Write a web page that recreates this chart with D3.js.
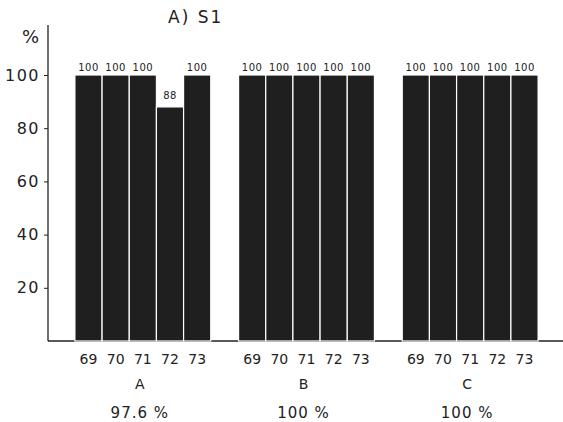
<!DOCTYPE html>
<html><head><meta charset="utf-8">
<script src="https://cdn.jsdelivr.net/npm/d3@7"></script>
<style>body{margin:0;background:#fff}svg{display:block}text{font-family:"DejaVu Sans",sans-serif;fill:#222}</style>
</head><body><svg id="c" width="563" height="422"></svg>
<script>
const groups = ["A", "B", "C"];
const years = ["69", "70", "71", "72", "73"];
const valuesA = [100, 100, 100, 88, 100];
const valuesB = [100, 100, 100, 100, 100];
const valuesC = [100, 100, 100, 100, 100];
const groupTotals = ["97.6 %", "100 %", "100 %"];
const yTicks = [20, 40, 60, 80, 100];
const title = "A) S1";

const seriesByGroup = {A: valuesA, B: valuesB, C: valuesC};
const svg = d3.select("#c");
const x0 = d3.scaleBand().domain(groups).range([61, 552]).paddingInner(0.17).paddingOuter(0.085);
const x1 = d3.scaleBand().domain(years).range([0, x0.bandwidth()]).padding(0);
const y = d3.scaleLinear().domain([0, 100]).range([341, 75]);

// axes lines
svg.append("line").attr("x1", 48).attr("x2", 48).attr("y1", 25).attr("y2", 341).attr("stroke", "#222").attr("stroke-width", 1.3);
svg.append("line").attr("x1", 48).attr("x2", 563).attr("y1", 341).attr("y2", 341).attr("stroke", "#222").attr("stroke-width", 1.5);

const yAxis = svg.append("g").attr("transform", "translate(48,0)")
  .call(d3.axisLeft(y).tickValues(yTicks).tickSize(4).tickPadding(4).tickFormat(d3.format("d")));
yAxis.select(".domain").remove();
yAxis.selectAll("line").attr("stroke", "#222");
yAxis.selectAll("text").style("font-size", "16px").style("letter-spacing", "1.5px").attr("fill", "#222");

svg.append("text").attr("x", 22).attr("y", 43).style("font-size", "18px").text("%");
svg.append("text").attr("x", 168).attr("y", 23).style("font-size", "17px").style("letter-spacing", "2px").text(title);

groups.forEach((g, gi) => {
  const gx = x0(g);
  const vals = seriesByGroup[g];
  const grp = svg.append("g").attr("transform", `translate(${gx},0)`);
  grp.selectAll("rect").data(vals).join("rect")
    .attr("x", (d, i) => x1(years[i]))
    .attr("width", x1.bandwidth())
    .attr("y", d => y(d))
    .attr("height", d => y(0) - y(d))
    .attr("fill", "#1f1f1f")
    .attr("stroke", "#fff").attr("stroke-width", 1.2);
  grp.selectAll("text.v").data(vals).join("text").attr("class", "v")
    .attr("x", (d, i) => x1(years[i]) + x1.bandwidth() / 2)
    .attr("y", d => y(d) - (d < 100 ? 8 : 4))
    .attr("text-anchor", "middle").style("font-size", "10px").style("letter-spacing", "0.5px")
    .text(d => d);
  grp.selectAll("text.yr").data(years).join("text").attr("class", "yr")
    .attr("x", d => x1(d) + x1.bandwidth() / 2)
    .attr("y", 364).attr("text-anchor", "middle").style("font-size", "14px")
    .text(d => d);
  svg.append("text").attr("x", gx + x0.bandwidth() / 2 - 3).attr("y", 389)
    .attr("text-anchor", "middle").style("font-size", "14px").text(g);
  svg.append("text").attr("x", gx + x0.bandwidth() / 2 - 3).attr("y", 418)
    .attr("text-anchor", "middle").style("font-size", "15px").style("letter-spacing", "1px").text(groupTotals[gi]);
});
</script></body></html>
